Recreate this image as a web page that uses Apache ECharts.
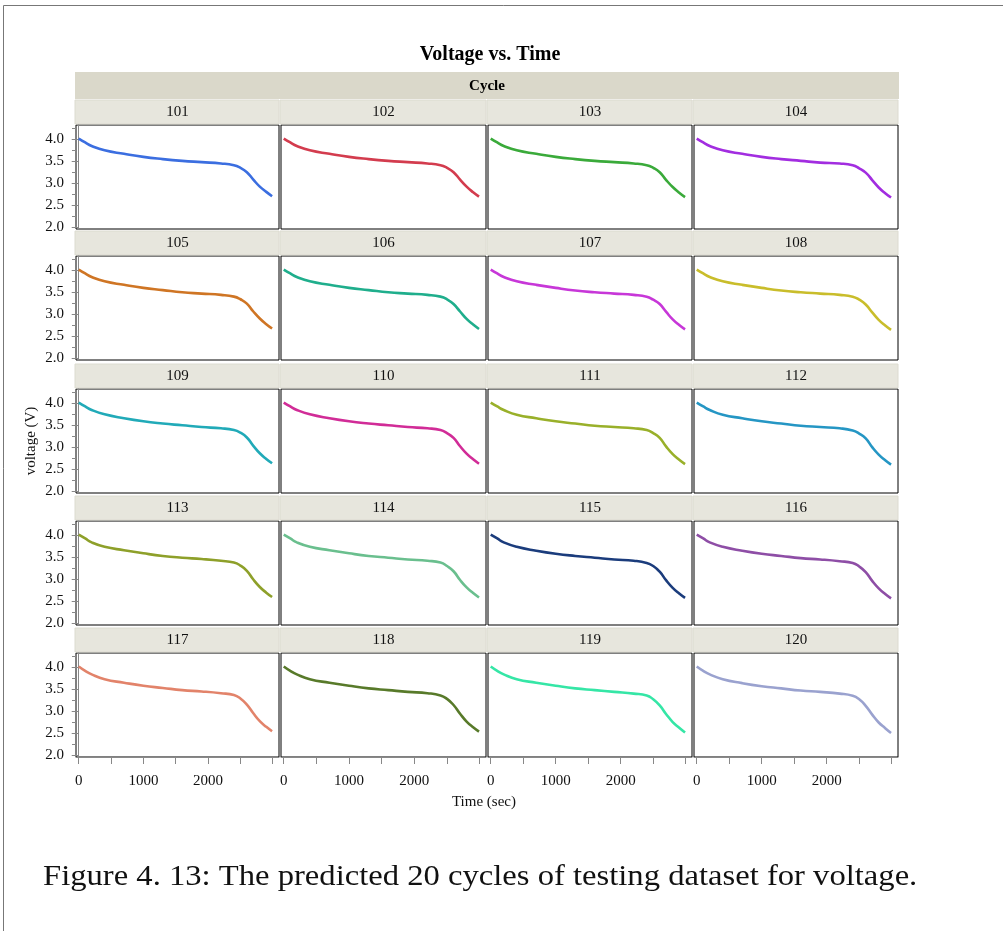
<!DOCTYPE html>
<html>
<head>
<meta charset="utf-8">
<title>Voltage vs. Time</title>
<script src="https://cdn.jsdelivr.net/npm/echarts@6/dist/echarts.min.js"></script>
<style>
  html, body { margin: 0; padding: 0; background: #fff; }
  #chart { width: 1003px; height: 931px; }
</style>
</head>
<body>
<div id="chart"></div>
<script>
// cycles shown in the facets
const cycles = ['101', '102', '103', '104', '105', '106', '107', '108', '109', '110',
  '111', '112', '113', '114', '115', '116', '117', '118', '119', '120']

// time samples (sec)
const times = [0, 100, 200, 400, 700, 1000, 1300, 1600, 1900, 2200, 2400, 2500, 2600, 2700, 2800, 2900, 2990]

// predicted voltage per cycle (V)
const v101 = [4.02, 3.93, 3.85, 3.75, 3.67, 3.60, 3.55, 3.51, 3.48, 3.45, 3.41, 3.35, 3.25, 3.08, 2.92, 2.80, 2.70]
const v102 = [4.02, 3.93, 3.85, 3.75, 3.67, 3.60, 3.55, 3.51, 3.48, 3.45, 3.41, 3.35, 3.25, 3.08, 2.92, 2.79, 2.69]
const v103 = [4.02, 3.93, 3.85, 3.75, 3.67, 3.60, 3.55, 3.51, 3.48, 3.45, 3.41, 3.35, 3.25, 3.07, 2.91, 2.78, 2.68]
const v104 = [4.02, 3.93, 3.85, 3.75, 3.67, 3.60, 3.55, 3.51, 3.47, 3.45, 3.41, 3.34, 3.24, 3.07, 2.90, 2.77, 2.67]
const v105 = [4.02, 3.93, 3.85, 3.75, 3.67, 3.60, 3.55, 3.50, 3.47, 3.44, 3.40, 3.34, 3.24, 3.06, 2.90, 2.77, 2.67]
const v106 = [4.02, 3.93, 3.85, 3.75, 3.67, 3.60, 3.55, 3.50, 3.47, 3.44, 3.40, 3.34, 3.23, 3.06, 2.89, 2.76, 2.66]
const v107 = [4.02, 3.93, 3.85, 3.75, 3.67, 3.60, 3.54, 3.50, 3.47, 3.44, 3.40, 3.33, 3.23, 3.05, 2.88, 2.75, 2.65]
const v108 = [4.02, 3.93, 3.85, 3.75, 3.67, 3.60, 3.54, 3.50, 3.47, 3.44, 3.40, 3.33, 3.22, 3.04, 2.87, 2.74, 2.64]
const v109 = [4.02, 3.93, 3.85, 3.75, 3.66, 3.59, 3.54, 3.50, 3.46, 3.43, 3.39, 3.33, 3.22, 3.03, 2.86, 2.73, 2.63]
const v110 = [4.02, 3.93, 3.85, 3.75, 3.66, 3.59, 3.54, 3.50, 3.46, 3.43, 3.39, 3.32, 3.21, 3.02, 2.85, 2.72, 2.62]
const v111 = [4.02, 3.93, 3.85, 3.74, 3.66, 3.59, 3.54, 3.49, 3.46, 3.43, 3.39, 3.32, 3.21, 3.01, 2.84, 2.71, 2.61]
const v112 = [4.02, 3.93, 3.85, 3.74, 3.66, 3.59, 3.54, 3.49, 3.46, 3.43, 3.38, 3.31, 3.20, 3.00, 2.83, 2.70, 2.60]
const v113 = [4.02, 3.93, 3.84, 3.74, 3.66, 3.59, 3.53, 3.49, 3.46, 3.42, 3.38, 3.31, 3.19, 2.99, 2.82, 2.69, 2.59]
const v114 = [4.02, 3.93, 3.84, 3.74, 3.66, 3.59, 3.53, 3.49, 3.45, 3.42, 3.38, 3.30, 3.18, 2.98, 2.81, 2.68, 2.58]
const v115 = [4.02, 3.93, 3.84, 3.74, 3.65, 3.58, 3.53, 3.49, 3.45, 3.42, 3.37, 3.30, 3.17, 2.97, 2.80, 2.67, 2.57]
const v116 = [4.02, 3.93, 3.84, 3.74, 3.65, 3.58, 3.53, 3.48, 3.45, 3.41, 3.37, 3.29, 3.16, 2.96, 2.79, 2.66, 2.56]
const v117 = [4.02, 3.92, 3.84, 3.73, 3.65, 3.58, 3.53, 3.48, 3.45, 3.41, 3.37, 3.29, 3.15, 2.95, 2.77, 2.64, 2.54]
const v118 = [4.02, 3.92, 3.84, 3.73, 3.65, 3.58, 3.52, 3.48, 3.44, 3.41, 3.36, 3.28, 3.14, 2.94, 2.76, 2.63, 2.53]
const v119 = [4.02, 3.92, 3.84, 3.73, 3.65, 3.58, 3.52, 3.48, 3.44, 3.40, 3.36, 3.27, 3.13, 2.93, 2.75, 2.62, 2.51]
const v120 = [4.02, 3.92, 3.84, 3.73, 3.64, 3.57, 3.52, 3.47, 3.44, 3.40, 3.35, 3.27, 3.12, 2.92, 2.74, 2.61, 2.50]
const voltages = [v101, v102, v103, v104, v105, v106, v107, v108, v109, v110,
  v111, v112, v113, v114, v115, v116, v117, v118, v119, v120]

// tick values
const xTicks = [0, 500, 1000, 1500, 2000, 2500, 3000]
const xLabels = [0, 1000, 2000]
const yTicks = [2.0, 2.5, 3.0, 3.5, 4.0]
const yMinorTicks = [2.25, 2.75, 3.25, 3.75, 4.25]

const colors = ['#3b6ee0', '#d33c4e', '#3aaa3a', '#a22de0', '#cf7524', '#1fae8c', '#c737d8', '#c9bd2b', '#21aab8', '#d12c97',
  '#99b02a', '#2596c4', '#8ea02a', '#6abf8e', '#1b3c7c', '#8e4ea6', '#e2836a', '#587a2a', '#35e6a6', '#9aa2cf']

// facet layout
const colLeft = [76, 281, 488, 694]
const colWidth = [203, 205, 204, 204]
const rowTop = [125, 256, 389, 521, 653]
const plotH = 104
const FONT = '"Liberation Serif", "Times New Roman", serif'

const grids = []
const xAxes = []
const yAxes = []
const series = []
const graphics = []

cycles.forEach((cyc, i) => {
  const r = Math.floor(i / 4)
  const c = i % 4
  const firstCol = c === 0
  const lastRow = r === 4

  grids.push({
    left: colLeft[c], top: rowTop[r], width: colWidth[c], height: plotH,
    show: true, borderColor: '#000', borderWidth: 1, backgroundColor: '#fff'
  })

  xAxes.push({
    type: 'value', gridIndex: i, min: -42, max: 3097,
    axisLine: { show: lastRow, lineStyle: { color: '#888' } },
    axisTick: { show: lastRow, length: 7, customValues: xTicks, lineStyle: { color: '#888' } },
    axisLabel: {
      show: lastRow, customValues: xLabels, margin: 17, color: '#111', fontFamily: FONT, fontSize: 15,
      formatter: v => String(v)
    },
    splitLine: { show: false }
  })

  yAxes.push({
    type: 'value', gridIndex: i, min: 1.95, max: 4.33, position: 'left',
    axisLine: { show: firstCol, lineStyle: { color: '#888' } },
    axisTick: { show: firstCol, length: 7, customValues: yTicks, lineStyle: { color: '#888' } },
    axisLabel: {
      show: firstCol, customValues: yTicks, margin: 12, color: '#111', fontFamily: FONT, fontSize: 15,
      formatter: v => v.toFixed(1)
    },
    splitLine: { show: false }
  })
  // minor ticks
  yAxes.push({
    type: 'value', gridIndex: i, min: 1.95, max: 4.33, position: 'left', offset: 0,
    axisLine: { show: false },
    axisTick: { show: firstCol, length: 4, customValues: yMinorTicks, lineStyle: { color: '#888' } },
    axisLabel: { show: false },
    splitLine: { show: false }
  })

  series.push({
    name: cyc, type: 'line', smooth: true, showSymbol: false,
    xAxisIndex: i, yAxisIndex: i * 2,
    lineStyle: { width: 2.6, color: colors[i] },
    itemStyle: { color: colors[i] },
    data: times.map((t, k) => [t, voltages[i][k]])
  })

  // facet strip
  graphics.push({
    type: 'rect', silent: true,
    shape: { x: colLeft[c] - 1, y: rowTop[r] - 25, width: colWidth[c] + 1, height: 24 },
    style: { fill: '#e7e6dd', stroke: '#dcdbd0', lineWidth: 1 }
  })
  graphics.push({
    type: 'text', silent: true,
    style: {
      text: cyc, x: colLeft[c] + colWidth[c] / 2, y: rowTop[r] - 13,
      textAlign: 'center', textVerticalAlign: 'middle',
      font: '15px ' + FONT, fill: '#111'
    }
  })
})

// Cycle header band
graphics.push({
  type: 'rect', silent: true,
  shape: { x: 75, y: 72, width: 824, height: 27 },
  style: { fill: '#dad8ca' }
})
graphics.push({
  type: 'text', silent: true,
  style: { text: 'Cycle', x: 487, y: 86, textAlign: 'center', textVerticalAlign: 'middle', font: 'bold 15px ' + FONT, fill: '#000' }
})
graphics.push({
  type: 'text', silent: true,
  style: { text: 'Voltage vs. Time', x: 490, y: 55, textAlign: 'center', textVerticalAlign: 'middle', font: 'bold 20px ' + FONT, fill: '#000' }
})
graphics.push({
  type: 'text', silent: true,
  style: { text: 'Time (sec)', x: 484, y: 802, textAlign: 'center', textVerticalAlign: 'middle', font: '15px ' + FONT, fill: '#111' }
})
graphics.push({
  type: 'text', silent: true, x: 31, y: 441, rotation: Math.PI / 2,
  style: { text: 'voltage (V)', x: 0, y: 0, textAlign: 'center', textVerticalAlign: 'middle', font: '15px ' + FONT, fill: '#111' }
})
graphics.push({
  type: 'text', silent: true, x: 43, y: 877, scaleX: 1.125,
  style: {
    text: 'Figure 4. 13: The predicted 20 cycles of testing dataset for voltage.', x: 0, y: 0,
    textAlign: 'left', textVerticalAlign: 'middle', font: '29px ' + FONT, fill: '#111'
  }
})
// page frame (left and top rules)
graphics.push({ type: 'line', silent: true, shape: { x1: 3.5, y1: 5.5, x2: 1003, y2: 5.5 }, style: { stroke: '#777', lineWidth: 1 } })
graphics.push({ type: 'line', silent: true, shape: { x1: 3.5, y1: 5.5, x2: 3.5, y2: 931 }, style: { stroke: '#777', lineWidth: 1 } })

const myChart = echarts.init(document.getElementById('chart'))
myChart.setOption({
  animation: false,
  backgroundColor: '#fff',
  grid: grids,
  xAxis: xAxes,
  yAxis: yAxes,
  series: series,
  graphic: graphics
})
</script>
</body>
</html>
